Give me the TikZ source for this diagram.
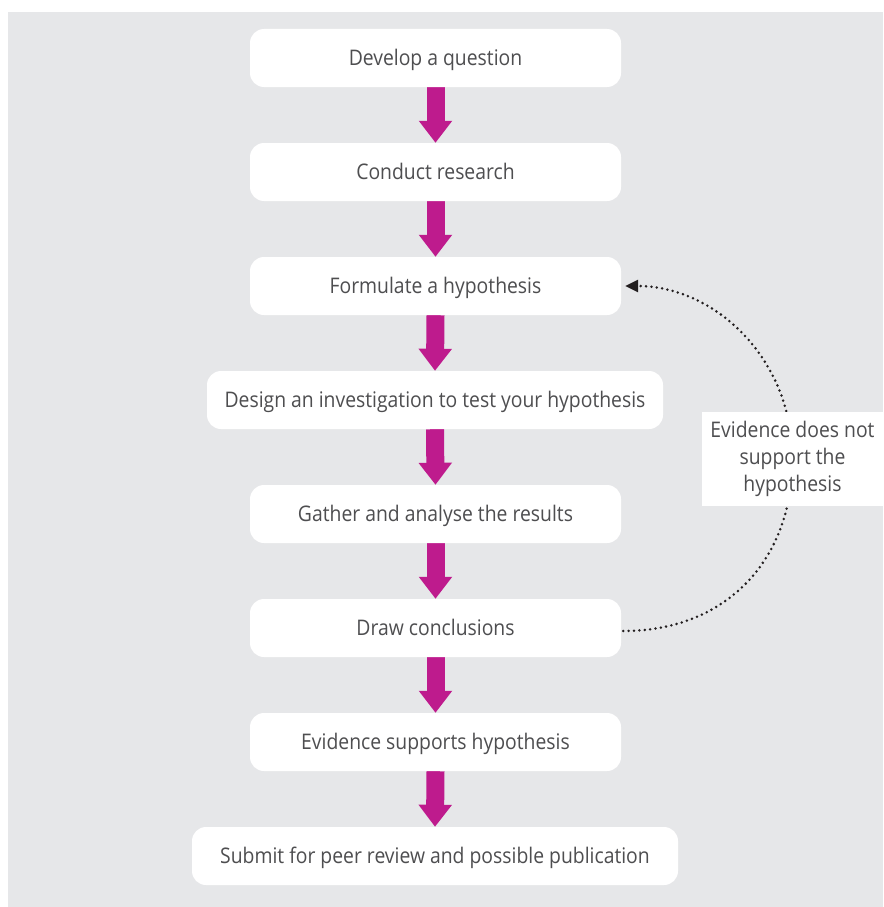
\documentclass[tikz,border=0pt]{standalone}
\usepackage{fontspec}
\setmainfont{Open Sans}[FakeStretch=0.9]
\usetikzlibrary{arrows.meta}
\definecolor{bggray}{RGB}{230,231,233}
\definecolor{flowmag}{RGB}{190,27,141}
\definecolor{txtgray}{RGB}{78,78,80}
\definecolor{dotblack}{RGB}{35,31,32}
\pgfdeclarelayer{bg}
\pgfsetlayers{bg,main}
\tikzset{
  stepbox/.style={fill=white, rounded corners=14pt, minimum height=58pt, inner sep=0pt,
    text height=18pt, text depth=3pt,
    text=txtgray, font=\fontsize{21.5}{27}\selectfont},
  labelbox/.style={fill=white, minimum width=181pt, minimum height=94pt, inner sep=0pt,
    text=txtgray, align=center, font=\fontsize{21.5}{27}\selectfont},
  flowarrow/.style={draw=flowmag, line width=18pt,
    -{Triangle[length=22pt,width=32pt,fill=flowmag]}},
  dotline/.style={draw=dotblack, line width=2.8pt, line cap=round, dash pattern=on 0pt off 5.4pt}
}
\begin{document}
\begin{tikzpicture}[x=1pt,y=-1pt]
\useasboundingbox (0,0) rectangle (883,907);
\begin{pgfonlayer}{bg}
\fill[bggray] (8,12) rectangle (883,907);
\end{pgfonlayer}
\node[stepbox, minimum width=371pt] (q) at (435.5,58) {Develop a question};
\node[stepbox, minimum width=371pt] (r) at (435.5,172) {Conduct research};
\node[stepbox, minimum width=371pt] (h) at (435.5,286) {Formulate a hypothesis};
\node[stepbox, minimum width=456pt] (d) at (435,400) {Design an investigation to test your hypothesis};
\node[stepbox, minimum width=371pt] (g) at (435.5,514) {Gather and analyse the results};
\node[stepbox, minimum width=371pt] (c) at (435.5,628) {Draw conclusions};
\node[stepbox, minimum width=371pt] (e) at (435.5,742) {Evidence supports hypothesis};
\node[stepbox, minimum width=486pt] (s) at (435,856) {Submit for peer review and possible publication};
\node[labelbox] (ev) at (792.5,459) {Evidence does not\\support the\\hypothesis};
\begin{pgfonlayer}{bg}
\foreach \a/\b in {q/r,r/h,h/d,d/g,g/c,c/e,e/s}
  \draw[flowarrow] (\a.south) -- (\b.north);
\draw[dotline] ([xshift=2pt,yshift=-3pt]c.east) to[out=0,in=-90,out distance=104pt,in distance=100pt] (ev.center);
\draw[dotline, -{Triangle[length=13pt,width=12pt,fill=dotblack]}, shorten >=4pt]
  (ev.center) to[out=90,in=0,out distance=100pt,in distance=94pt] (h.east);
\end{pgfonlayer}
\end{tikzpicture}
\end{document}
